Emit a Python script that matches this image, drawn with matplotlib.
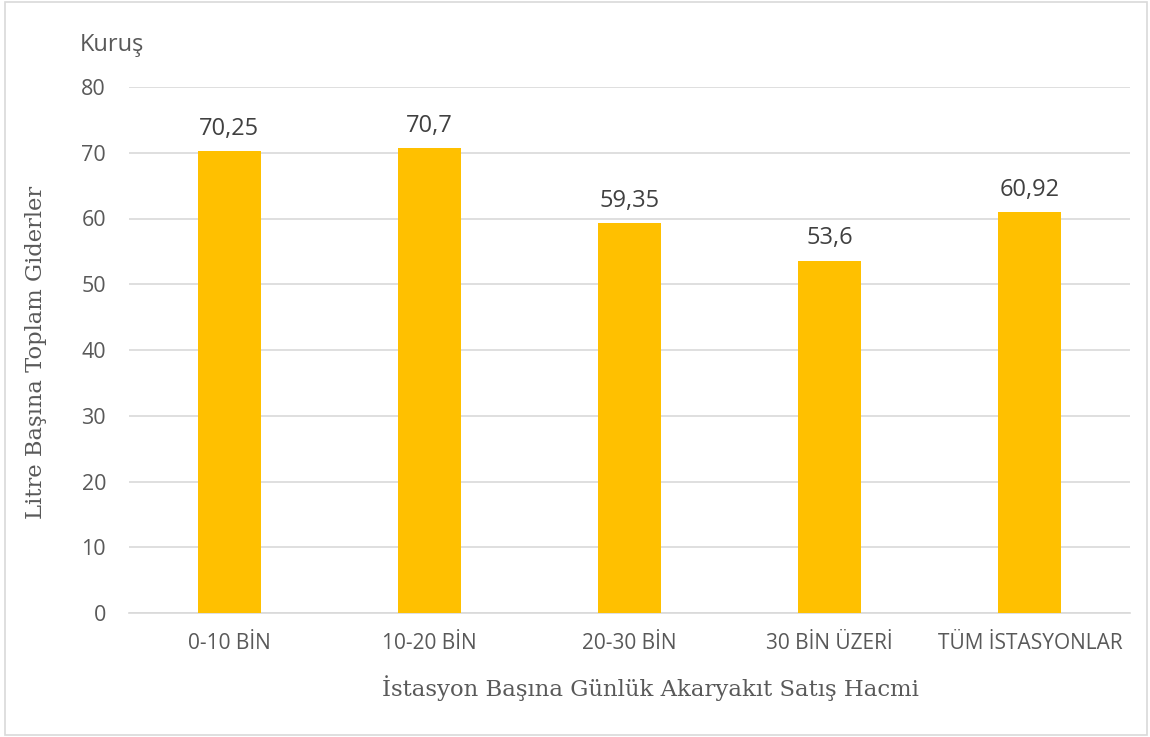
import matplotlib
matplotlib.use("Agg")
import matplotlib.pyplot as plt
from matplotlib.patches import Rectangle

categories = ["0-10 BİN", "10-20 BİN", "20-30 BİN", "30 BİN ÜZERİ", "TÜM İSTASYONLAR"]
values = [70.25, 70.7, 59.35, 53.6, 60.92]
value_labels = ["70,25", "70,7", "59,35", "53,6", "60,92"]
yticks = [0, 10, 20, 30, 40, 50, 60, 70, 80]

fig = plt.figure(figsize=(11.5, 7.37), dpi=100)
ax = fig.add_axes([129/1150, 1-613/737, (1130-129)/1150, (613-87)/737])

x = list(range(len(categories)))
bars = ax.bar(x, values, width=0.315, color="#FFC000", zorder=3)
for xi, v, lab in zip(x, values, value_labels):
    ax.annotate(lab, (xi, v), xytext=(0, 16), textcoords="offset points",
                ha="center", va="center", fontsize=17, color="#404040",
                family="Open Sans")

ax.set_xlim(-0.5, len(categories) - 0.5)
ax.set_ylim(0, 80)
ax.set_yticks(yticks)
ax.set_yticklabels([str(t) for t in yticks], fontsize=15.5, color="#595959", family="Open Sans")
ax.set_xticks(x)
ax.set_xticklabels(categories, fontsize=15, color="#595959", family="Open Sans")
ax.tick_params(axis="both", length=0)
ax.tick_params(axis="y", pad=16.5)
ax.tick_params(axis="x", pad=14.5)
ax.grid(axis="y", color="#D9D9D9", linewidth=1.2, zorder=0)
for s in ["top", "right", "left"]:
    ax.spines[s].set_visible(False)
ax.spines["bottom"].set_color("#D9D9D9")
ax.spines["bottom"].set_linewidth(1.2)

fig.text(80/1150, 1-45/737, "Kuruş", fontsize=17, color="#595959", family="Open Sans",
         ha="left", va="center")
fig.text(36/1150, 1-352/737, "Litre Başına Toplam Giderler", fontsize=16.3, color="#595959",
         family="DejaVu Serif", rotation=90, ha="center", va="center")
fig.text(650/1150, 1-688/737, "İstasyon Başına Günlük Akaryakıt Satış Hacmi", fontsize=16.4,
         color="#595959", family="DejaVu Serif", ha="center", va="center")

fig.patches.append(Rectangle((5/1150, 2/737), 1142/1150, 733/737, transform=fig.transFigure,
                             fill=False, edgecolor="#D9D9D9", linewidth=1.2))

fig.savefig("out.png", dpi=100)
